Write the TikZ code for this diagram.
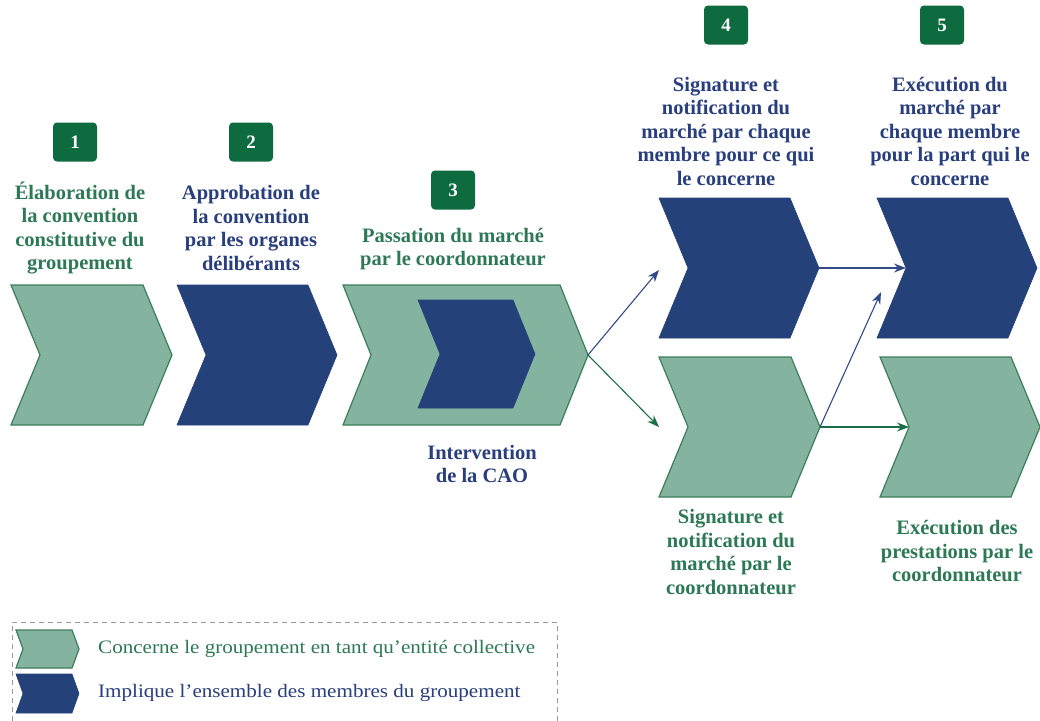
\documentclass[tikz,border=0pt]{standalone}
\usepackage{fontspec}
\setmainfont{Liberation Serif}
\newfontfamily\legfont[FakeStretch=1.11]{Liberation Serif}
\usetikzlibrary{arrows.meta}
\definecolor{txtgreen}{RGB}{45,120,85}
\definecolor{txtblue}{RGB}{40,62,125}
\definecolor{boxgreen}{RGB}{14,107,64}
\definecolor{chgfill}{RGB}{132,180,160}
\definecolor{chgdraw}{RGB}{60,125,90}
\definecolor{chblue}{RGB}{36,65,122}
\definecolor{arrblue}{RGB}{50,75,135}
\definecolor{arrgreen}{RGB}{25,110,70}
\newcommand\mychev[8]{%
  \pgfmathsetmacro\cym{(#6+#7)/2}%
  \filldraw[#2] (#4,#6) -- (#5,#6) -- ({#5+#8},\cym) -- (#5,#7) -- (#4,#7) -- ({#4+#8},\cym) -- cycle;
  \coordinate (#1-tip) at ({#5+#8},\cym);
  \coordinate (#1-back) at (#4,\cym);
  \coordinate (#1-notch) at ({#4+#8},\cym);
}
\tikzset{
  chg/.style={fill=chgfill,draw=chgdraw,line width=1.2pt,line join=miter},
  chb/.style={fill=chblue,draw=chblue,line width=0.6pt},
  numbox/.style={fill=boxgreen,rounded corners=4pt,minimum width=44pt,minimum height=39pt,inner sep=0pt,text=white,font=\bfseries\fontsize{19}{19}\selectfont},
  lblg/.style={align=center,text=txtgreen,inner sep=0pt,font=\bfseries\fontsize{20.5}{23.5}\selectfont},
  lblb/.style={align=center,text=txtblue,inner sep=0pt,font=\bfseries\fontsize{20.5}{23.5}\selectfont},
  arb/.style={draw=arrblue,line width=1.1pt,-{Stealth[length=12pt,width=9pt]}},
  arg/.style={draw=arrgreen,line width=1.1pt,-{Stealth[length=12pt,width=9pt]}},
  legtxt/.style={anchor=west,inner sep=0pt,font=\legfont\fontsize{19}{22}\selectfont},
}
\begin{document}
\begin{tikzpicture}[x=1pt,y=-1pt]
\useasboundingbox (0,0) rectangle (1040,720);
% chevrons
\mychev{c1}{chg}{}{11}{143}{285}{425}{29}
\mychev{c2}{chb}{}{177}{308}{285}{425}{29}
\mychev{c3}{chg}{}{343}{560}{285}{425}{28}
\mychev{c3i}{chb}{}{418}{513}{300}{408}{22}
\mychev{c4a}{chb}{}{659}{790}{198}{338}{29}
\mychev{c4b}{chg}{}{659}{791}{357}{497}{29}
\mychev{c5a}{chb}{}{877}{1008}{198}{338}{29}
\mychev{c5b}{chg}{}{880}{1011}{357}{497}{29}
% number boxes
\node[numbox] (n1) at (75,142) {1};
\node[numbox] (n2) at (251,142) {2};
\node[numbox] (n3) at (453,190) {3};
\node[numbox] (n4) at (726,25) {4};
\node[numbox] (n5) at (942,25) {5};
% labels
\node[lblg] (l1) at (80,228) {Élaboration de\\la convention\\constitutive du\\groupement};
\node[lblb] (l2) at (251,228) {Approbation de\\la convention\\par les organes\\délibérants};
\node[lblg] (l3) at (453,249) {Passation du marché\\par le coordonnateur};
\node[lblb] (l3i) at (482,464) {Intervention\\de la CAO};
\node[lblb] (l4a) at (726,131) {Signature et\\notification du\\marché par chaque\\membre pour ce qui\\le concerne};
\node[lblb] (l5a) at (950,131) {Exécution du\\marché par\\chaque membre\\pour la part qui le\\concerne};
\node[lblg] (l4b) at (731,552) {Signature et\\notification du\\marché par le\\coordonnateur};
\node[lblg] (l5b) at (957,551) {Exécution des\\prestations par le\\coordonnateur};
% connectors
\coordinate (c4a-in) at (659,270);
\coordinate (c5a-in) at (881,292);
\draw[arb] (c3-tip) -- (c4a-in);
\draw[arg] (c3-tip) -- (c4b-back);
\draw[arb] (c4a-tip) -- (c5a-notch);
\draw[arb] (c4b-tip) -- (c5a-in);
\draw[arg] (c4b-tip) -- (c5b-notch);
% legend
\draw[draw=gray!80,line width=0.9pt,dash pattern=on 5pt off 4pt] (12,721) -- (12,622) -- (557,622) -- (557,721);
\mychev{lg}{chg}{}{16}{72}{630}{668}{7}
\mychev{lb}{chb}{}{16}{72}{674}{713}{7}
\node[legtxt,text=txtgreen] (t1) at (98,649) {Concerne le groupement en tant qu’entité collective};
\node[legtxt,text=txtblue] (t2) at (98,693) {Implique l’ensemble des membres du groupement};
\end{tikzpicture}
\end{document}
